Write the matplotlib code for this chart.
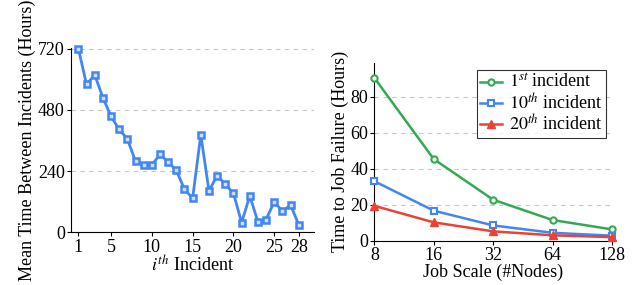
import matplotlib
matplotlib.use("Agg")
import matplotlib.pyplot as plt

plt.rcParams['font.family'] = ['Liberation Serif', 'DejaVu Serif']
plt.rcParams['mathtext.fontset'] = 'stix'

# Left chart data
incidents = list(range(1, 29))
mtbi = [720, 579, 617, 528, 454, 403, 366, 278, 263, 263, 306, 275, 243, 168,
        134, 382, 162, 222, 188, 153, 38, 143, 40, 50, 120, 82, 107, 29]
left_xticks = [1, 5, 10, 15, 20, 25, 28]
left_yticks = [0, 240, 480, 720]

# Right chart data
job_scale = [8, 16, 32, 64, 128]
first_inc = [90.6, 45.4, 22.8, 11.5, 6.3]
tenth_inc = [33.1, 16.7, 8.5, 4.4, 2.8]
twentieth_inc = [19.4, 10.2, 5.2, 3.0, 2.0]
right_yticks = [0, 20, 40, 60, 80]

BLUE = '#4285F4'
GREEN = '#34A853'
RED = '#EA4335'
FS = 13

fig = plt.figure(figsize=(6.38, 2.85), dpi=100)

def style(ax):
    for s in ['top', 'right']:
        ax.spines[s].set_visible(False)
    for s in ['left', 'bottom']:
        ax.spines[s].set_linewidth(0.8)
    ax.tick_params(direction='out', length=3, width=0.8, labelsize=FS, pad=1.5)
    ax.yaxis.grid(True, linestyle=(0, (4, 4)), color='#c8c8c8', linewidth=0.8)
    ax.set_axisbelow(True)

ax1 = fig.add_axes([0.1113, 0.1849, 0.3813, 0.6467])
style(ax1)
ax1.plot(incidents, mtbi, color=BLUE, lw=2, marker='s', ms=4.5,
         mfc='#cfe0fc', mec=BLUE, mew=1.8, clip_on=False, zorder=3)
ax1.set_xlim(0.1, 29.9)
ax1.set_ylim(0, 722)
ax1.set_xticks(left_xticks)
ax1.set_yticks(left_yticks)
ax1.set_xlabel('$i^{th}$ Incident', fontsize=FS, labelpad=0)
ax1.set_ylabel('Mean Time Between Incidents (Hours)', fontsize=FS, labelpad=1)

ax2 = fig.add_axes([0.5867, 0.1554, 0.3725, 0.6246])
style(ax2)
ax2.set_xscale('log', base=2)
ax2.plot(job_scale, first_inc, color=GREEN, lw=1.8, marker='o', ms=4.5,
         mfc='white', mec=GREEN, mew=1.5, clip_on=False, zorder=3,
         label='$1^{st}$ incident')
ax2.plot(job_scale, tenth_inc, color=BLUE, lw=1.8, marker='s', ms=4.5,
         mfc='white', mec=BLUE, mew=1.5, clip_on=False, zorder=3,
         label='$10^{th}$ incident')
ax2.plot(job_scale, twentieth_inc, color=RED, lw=1.8, marker='^', ms=5.5,
         mfc=RED, mec=RED, mew=1, clip_on=False, zorder=3,
         label='$20^{th}$ incident')
ax2.set_xlim(8, 128)
ax2.set_ylim(0, 99)
ax2.set_xticks(job_scale)
ax2.set_xticklabels([str(v) for v in job_scale])
ax2.minorticks_off()
ax2.set_yticks(right_yticks)
ax2.set_xlabel('Job Scale (#Nodes)', fontsize=FS, labelpad=0)
ax2.set_ylabel('Time to Job Failure (Hours)', fontsize=FS, labelpad=1)
leg = ax2.legend(loc='upper right', bbox_to_anchor=(0.975, 0.96), fontsize=FS,
                 frameon=True, fancybox=False, edgecolor='black',
                 handlelength=1.2, handletextpad=0.4, borderpad=0.2,
                 labelspacing=0.05, borderaxespad=0)
leg.get_frame().set_linewidth(0.8)

fig.savefig('out.png', dpi=100)
